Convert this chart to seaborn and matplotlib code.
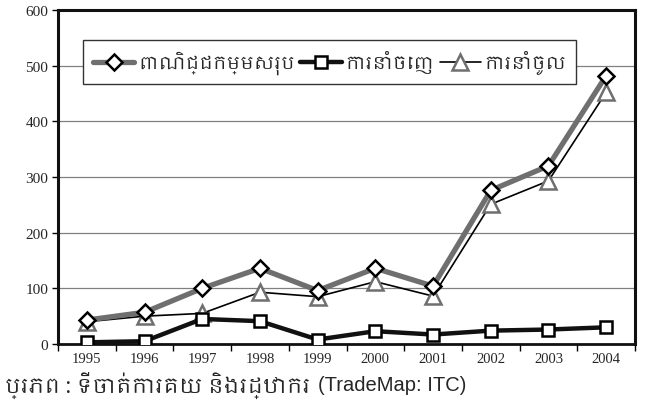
import numpy as np
import pandas as pd
import seaborn as sns
import matplotlib.pyplot as plt
from matplotlib import font_manager
from matplotlib.lines import Line2D

# data
years = [1995, 1996, 1997, 1998, 1999, 2000, 2001, 2002, 2003, 2004]
total_trade = [43, 57, 100, 136, 96, 136, 104, 276, 320, 482]
exports = [3, 5, 45, 41, 8, 23, 17, 24, 26, 30]
imports = [40, 50, 55, 93, 85, 112, 86, 251, 293, 452]
labels = ['ពាណិជ្ជកម្មសរុប', 'ការនាំចេញ', 'ការនាំចូល']
yticks = [0, 100, 200, 300, 400, 500, 600]
caption_km = 'ប្រភព : ទីចាត់ការគយ និងរដ្ឋាករ'
caption_en = '(TradeMap: ITC)'

sns.set_style('white')

# look for a font that has Khmer glyphs
names = sorted(set(f.name for f in font_manager.fontManager.ttflist))
khmer = [n for n in names if 'khmer' in n.lower()]
km_font = khmer[0] if khmer else 'DejaVu Sans'

df = pd.DataFrame({'year': years, 'total': total_trade,
                   'exports': exports, 'imports': imports})

fig = plt.figure(figsize=(6.46, 4.14), dpi=100)
ax = fig.add_axes([58/646, 1-345/414, (635-58)/646, (345-11)/414])

gray = '#6f6f6f'
sns.lineplot(data=df, x='year', y='imports', ax=ax, color='black', lw=1.2,
             marker='^', ms=11, mfc='white', mec=gray, mew=1.8, zorder=3)
sns.lineplot(data=df, x='year', y='total', ax=ax, color=gray, lw=3.8,
             marker='D', ms=8.5, mfc='white', mec='black', mew=1.8, zorder=4)
sns.lineplot(data=df, x='year', y='exports', ax=ax, color='#111111', lw=3.2,
             marker='s', ms=9, mfc='white', mec='black', mew=1.8, zorder=5)

ax.set_xlim(1994.5, 2004.5)
ax.set_ylim(0, 600)
ax.set_xlabel('')
ax.set_ylabel('')

ax.set_yticks(yticks)
ax.set_yticklabels([str(v) for v in yticks], family='Liberation Serif', fontsize=11)
ax.set_xticks(years)
ax.set_xticklabels([str(y) for y in years], family='Liberation Serif', fontsize=10.5)
ax.set_xticks(np.arange(1994.5, 2005, 1), minor=True)
ax.tick_params(axis='x', which='major', length=0, pad=6)
ax.tick_params(axis='x', which='minor', length=5, width=1, direction='out', color='black', bottom=True)
ax.tick_params(axis='y', length=4, width=1, direction='out', color='black', left=True, pad=3)

ax.grid(axis='y', color='#808080', lw=0.9)
ax.set_axisbelow(True)
for s in ['left', 'right', 'top']:
    ax.spines[s].set_visible(True)
    ax.spines[s].set_color('#111111')
    ax.spines[s].set_linewidth(2.2)
ax.spines['bottom'].set_color('#111111')
ax.spines['bottom'].set_linewidth(2)

handles = [
    Line2D([], [], color=gray, lw=3.8, marker='D', ms=8.5, mfc='white', mec='black', mew=1.8),
    Line2D([], [], color='#111111', lw=3.2, marker='s', ms=8, mfc='white', mec='black', mew=1.8),
    Line2D([], [], color='black', lw=1.2, marker='^', ms=11, mfc='white', mec=gray, mew=1.8),
]
leg = ax.legend(handles, labels, ncol=3, loc='upper left',
                bbox_to_anchor=(83/646, 1-41/414), bbox_transform=fig.transFigure,
                borderaxespad=0, prop={'family': km_font, 'size': 13},
                handlelength=2.3, handletextpad=0.2, columnspacing=0.3,
                borderpad=0.55, frameon=True, fancybox=False, framealpha=1,
                edgecolor='#333333')
leg.get_frame().set_linewidth(1)

t1 = fig.text(5/646, 1-385/414, caption_km, family=km_font, fontsize=15, va='center', ha='left')
fig.canvas.draw()
bb = t1.get_window_extent()
fig.text((bb.x1 + 8)/646, 1-386/414, caption_en, family='Liberation Sans',
         fontsize=14.5, va='center', ha='left')

fig.savefig('out.png', dpi=100)
